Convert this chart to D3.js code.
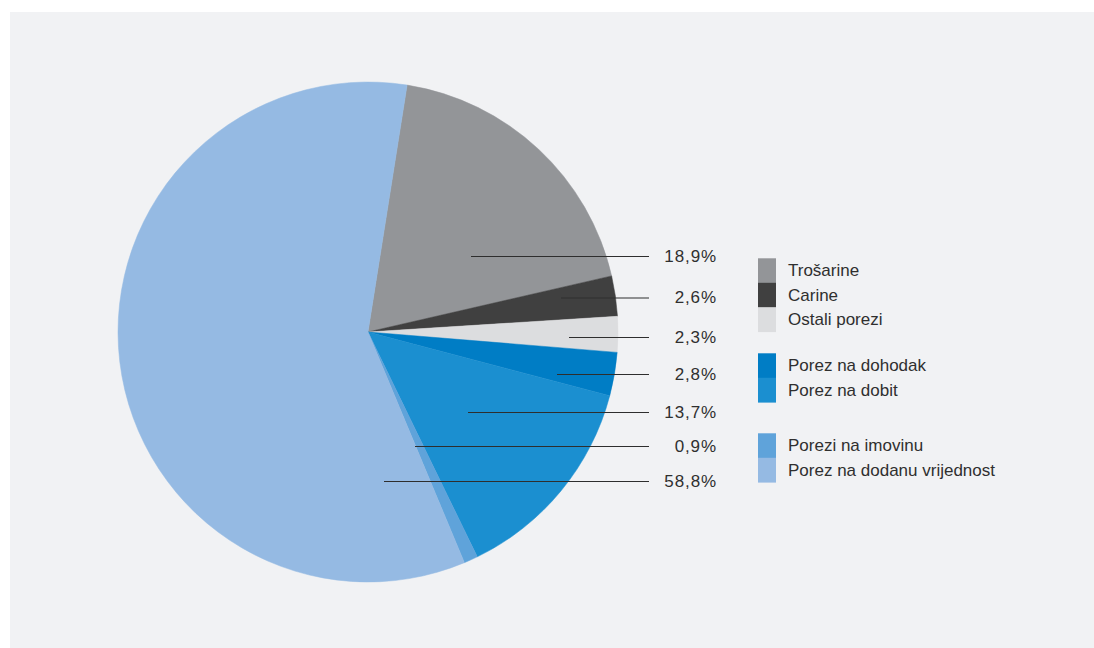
<!DOCTYPE html>
<html>
<head>
<meta charset="utf-8">
<script src="https://cdn.jsdelivr.net/npm/d3@7"></script>
<style>
  html, body { margin: 0; padding: 0; background: #ffffff; }
  svg { display: block; }
  text { font-family: "Liberation Sans", Arial, sans-serif; fill: #2f2f2f; }
</style>
</head>
<body>
<svg id="chart" width="1094" height="648"></svg>
<script>
// ---- data ----
const categories = ["Trošarine", "Carine", "Ostali porezi", "Porez na dohodak", "Porez na dobit", "Porezi na imovinu", "Porez na dodanu vrijednost"];
const values = [18.9, 2.6, 2.3, 2.8, 13.7, 0.9, 58.8];
const valueLabels = ["18,9%", "2,6%", "2,3%", "2,8%", "13,7%", "0,9%", "58,8%"];
const legendGroups = [0, 0, 0, 1, 1, 2, 2];
const colors = ["#939598", "#404040", "#dcdddf", "#007dc5", "#1b8fd0", "#5fa3da", "#95bae3"];

// ---- layout ----
const W = 1094, H = 648;
const cx = 368, cy = 332, R = 250;
const startDeg = 9;
const labelLineY = [256.5, 298, 337.5, 374.5, 412.5, 446.5, 481.5];
const labelLineX0 = [471, 561, 569, 557, 468, 415, 384];
const labelLineX1 = 649;
const labelTextX = 717;
const legendX = 758, legendSw = 18, legendRowH = 24.5, legendTextX = 788;
const groupTop = [258.3, 353.3, 433.3];

const svg = d3.select("#chart");
svg.append("rect").attr("x", 10).attr("y", 12).attr("width", W - 10).attr("height", H - 12).attr("fill", "#f1f2f4");

const data = categories.map((c, i) => ({ name: c, value: values[i], label: valueLabels[i], color: colors[i], group: legendGroups[i], i }));

const a0 = startDeg * Math.PI / 180;
const pie = d3.pie().sort(null).value(d => d.value).startAngle(a0).endAngle(a0 + 2 * Math.PI);
const arc = d3.arc().innerRadius(0).outerRadius(R);

const g = svg.append("g").attr("transform", `translate(${cx},${cy})`);
g.selectAll("path").data(pie(data)).join("path")
  .attr("d", arc)
  .attr("fill", d => d.data.color)
  .attr("stroke", d => d.data.color)
  .attr("stroke-width", 0.5);

// leader lines
svg.append("g").selectAll("line").data(data).join("line")
  .attr("x1", d => labelLineX0[d.i]).attr("x2", labelLineX1)
  .attr("y1", d => labelLineY[d.i]).attr("y2", d => labelLineY[d.i])
  .attr("stroke", "#2e2e2e").attr("stroke-width", 1.2);

// value labels
svg.append("g").selectAll("text").data(data).join("text")
  .attr("x", labelTextX).attr("y", d => labelLineY[d.i] + 5)
  .attr("text-anchor", "end")
  .attr("font-size", 17)
  .attr("letter-spacing", 0.9)
  .text(d => d.label);

// legend
const rowIndexInGroup = data.map((d, i) => data.slice(0, i).filter(e => e.group === d.group).length);
const lg = svg.append("g");
lg.selectAll("rect").data(data).join("rect")
  .attr("x", legendX)
  .attr("y", d => groupTop[d.group] + rowIndexInGroup[d.i] * legendRowH)
  .attr("width", legendSw).attr("height", legendRowH + 0.3)
  .attr("fill", d => d.color);
lg.selectAll("text").data(data).join("text")
  .attr("x", legendTextX)
  .attr("y", d => groupTop[d.group] + rowIndexInGroup[d.i] * legendRowH + legendRowH / 2 + 5.5)
  .attr("font-size", 17)
  .text(d => d.name);
</script>
</body>
</html>
